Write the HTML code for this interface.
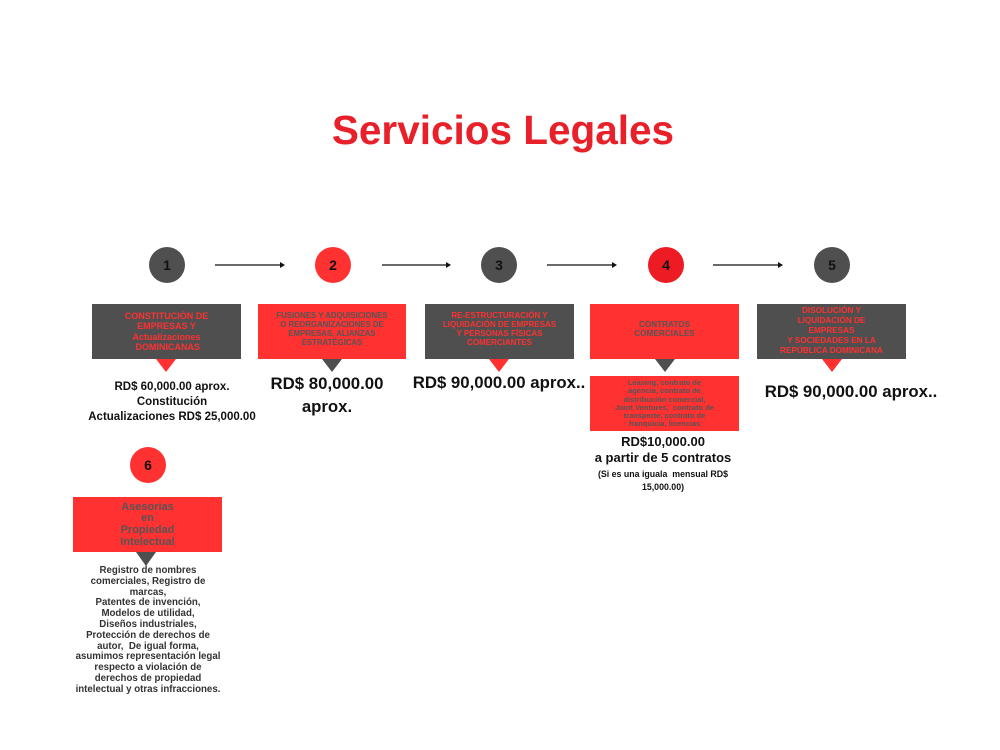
<!DOCTYPE html>
<html><head><meta charset="utf-8">
<style>
html,body{margin:0;padding:0;background:#fff;}
#c{position:relative;width:1000px;height:750px;overflow:hidden;font-family:"Liberation Sans",Arial,sans-serif;font-weight:bold;}
.t{position:absolute;text-align:center;white-space:nowrap;}
svg{position:absolute;left:0;top:0;}
</style></head><body>
<div id="c">
<svg width="1000" height="750" viewBox="0 0 1000 750">
  <circle cx="167" cy="265" r="18" fill="#4f4f4f"/>
  <circle cx="333" cy="265" r="18" fill="#ff3131"/>
  <circle cx="499" cy="265" r="18" fill="#4f4f4f"/>
  <circle cx="666" cy="265" r="18" fill="#ed1c24"/>
  <circle cx="832" cy="265" r="18" fill="#4f4f4f"/>
  <circle cx="148" cy="465" r="18" fill="#ff3131"/>
  <g stroke="#111" stroke-width="1.3">
    <line x1="215" y1="265" x2="282" y2="265"/>
    <line x1="382" y1="265" x2="448" y2="265"/>
    <line x1="547" y1="265" x2="614" y2="265"/>
    <line x1="713" y1="265" x2="780" y2="265"/>
  </g>
  <g fill="#111">
    <polygon points="285,265 280,262 280,268"/>
    <polygon points="451,265 446,262 446,268"/>
    <polygon points="617,265 612,262 612,268"/>
    <polygon points="783,265 778,262 778,268"/>
  </g>
  <rect x="92" y="304" width="149" height="55" fill="#4f4f4f"/>
  <rect x="258" y="304" width="148" height="55" fill="#ff3131"/>
  <rect x="425" y="304" width="149" height="55" fill="#4f4f4f"/>
  <rect x="590" y="304" width="149" height="55" fill="#ff3131"/>
  <rect x="757" y="304" width="149" height="55" fill="#4f4f4f"/>
  <rect x="590" y="376" width="149" height="55" fill="#ff3131"/>
  <rect x="73" y="497" width="149" height="55" fill="#ff3131"/>
  <polygon points="156,359 176,359 166,372" fill="#ff3131"/>
  <polygon points="322,359 342,359 332,372" fill="#4f4f4f"/>
  <polygon points="489,359 509,359 499,372" fill="#ff3131"/>
  <polygon points="655,359 675,359 665,372" fill="#4f4f4f"/>
  <polygon points="822,359 842,359 832,372" fill="#ff3131"/>
  <polygon points="136,552 156,552 146,566" fill="#4f4f4f"/>
</svg>

<div class="t" style="left:0;width:1000px;top:104px;font-size:40.5px;line-height:52px;color:#e8202a;padding-left:3px;">Servicios Legales</div>

<div class="t" style="left:147px;width:40px;top:257px;font-size:14px;line-height:16px;color:#111;">1</div>
<div class="t" style="left:313px;width:40px;top:257px;font-size:14px;line-height:16px;color:#111;">2</div>
<div class="t" style="left:479px;width:40px;top:257px;font-size:14px;line-height:16px;color:#111;">3</div>
<div class="t" style="left:646px;width:40px;top:257px;font-size:14px;line-height:16px;color:#111;">4</div>
<div class="t" style="left:812px;width:40px;top:257px;font-size:14px;line-height:16px;color:#111;">5</div>
<div class="t" style="left:128px;width:40px;top:457px;font-size:14px;line-height:16px;color:#111;">6</div>

<div class="t" style="left:92px;width:149px;top:311px;font-size:9px;line-height:10.3px;color:#ff3131;">CONSTITUCIÓN DE<br>EMPRESAS Y<br>Actualizaciones<br>&nbsp;DOMINICANAS</div>
<div class="t" style="left:258px;width:148px;top:310.5px;font-size:7.8px;line-height:9px;color:#555;">FUSIONES Y ADQUISICIONES<br>O REORGANIZACIONES DE<br>EMPRESAS, ALIANZAS<br>ESTRATÉGICAS</div>
<div class="t" style="left:425px;width:149px;top:310.5px;font-size:8px;line-height:9.3px;color:#ff3131;">RE-ESTRUCTURACIÓN Y<br>LIQUIDACIÓN DE EMPRESAS<br>Y PERSONAS FÍSICAS<br>COMERCIANTES</div>
<div class="t" style="left:590px;width:149px;top:319.5px;font-size:8.2px;line-height:9px;color:#555;">CONTRATOS<br>COMERCIALES</div>
<div class="t" style="left:757px;width:149px;top:306px;font-size:8.2px;line-height:10px;color:#ff3131;">DISOLUCIÓN Y<br>LIQUIDACIÓN DE<br>EMPRESAS<br>Y SOCIEDADES EN LA<br>REPÚBLICA DOMINICANA</div>
<div class="t" style="left:590px;width:149px;top:379px;font-size:7.5px;line-height:8.3px;color:#555;">Leasing, contrato de<br>agencia, contrato de<br>distribución comercial,<br>Joint Ventures,&nbsp; contrato de<br>transperte, contrato de<br>franquicia, licencias</div>
<div class="t" style="left:73px;width:149px;top:501.5px;font-size:11px;line-height:11.7px;color:#555;">Asesorias<br>en<br>Propiedad<br>Intelectual</div>

<div class="t" style="left:72px;width:200px;top:379.5px;font-size:11.5px;line-height:15px;color:#111;">RD$ 60,000.00 aprox.<br>Constitución<br>Actualizaciones RD$ 25,000.00</div>
<div class="t" style="left:227px;width:200px;top:372px;font-size:16.8px;line-height:23px;color:#111;">RD$ 80,000.00<br>aprox.</div>
<div class="t" style="left:399px;width:200px;top:372px;font-size:16.8px;line-height:22px;color:#111;">RD$ 90,000.00 aprox..</div>
<div class="t" style="left:751px;width:200px;top:381px;font-size:16.8px;line-height:22px;color:#111;">RD$ 90,000.00 aprox..</div>
<div class="t" style="left:563px;width:200px;top:434px;font-size:13px;line-height:16px;color:#111;">RD$10,000.00<br>a partir de 5 contratos</div>
<div class="t" style="left:558px;width:210px;top:468px;font-size:8.8px;line-height:12.5px;color:#111;">(Si es una iguala&nbsp; mensual RD$<br>15,000.00)</div>

<div class="t" style="left:48px;width:200px;top:566px;font-size:9.7px;line-height:10.8px;color:#333;">Registro de nombres<br>comerciales, Registro de<br>marcas,<br>Patentes de invención,<br>Modelos de utilidad,<br>Diseños industriales,<br>Protección de derechos de<br>autor,&nbsp; De igual forma,<br>asumimos representación legal<br>respecto a violación de<br>derechos de propiedad<br>intelectual y otras infracciones.</div>
</div>
</body></html>
